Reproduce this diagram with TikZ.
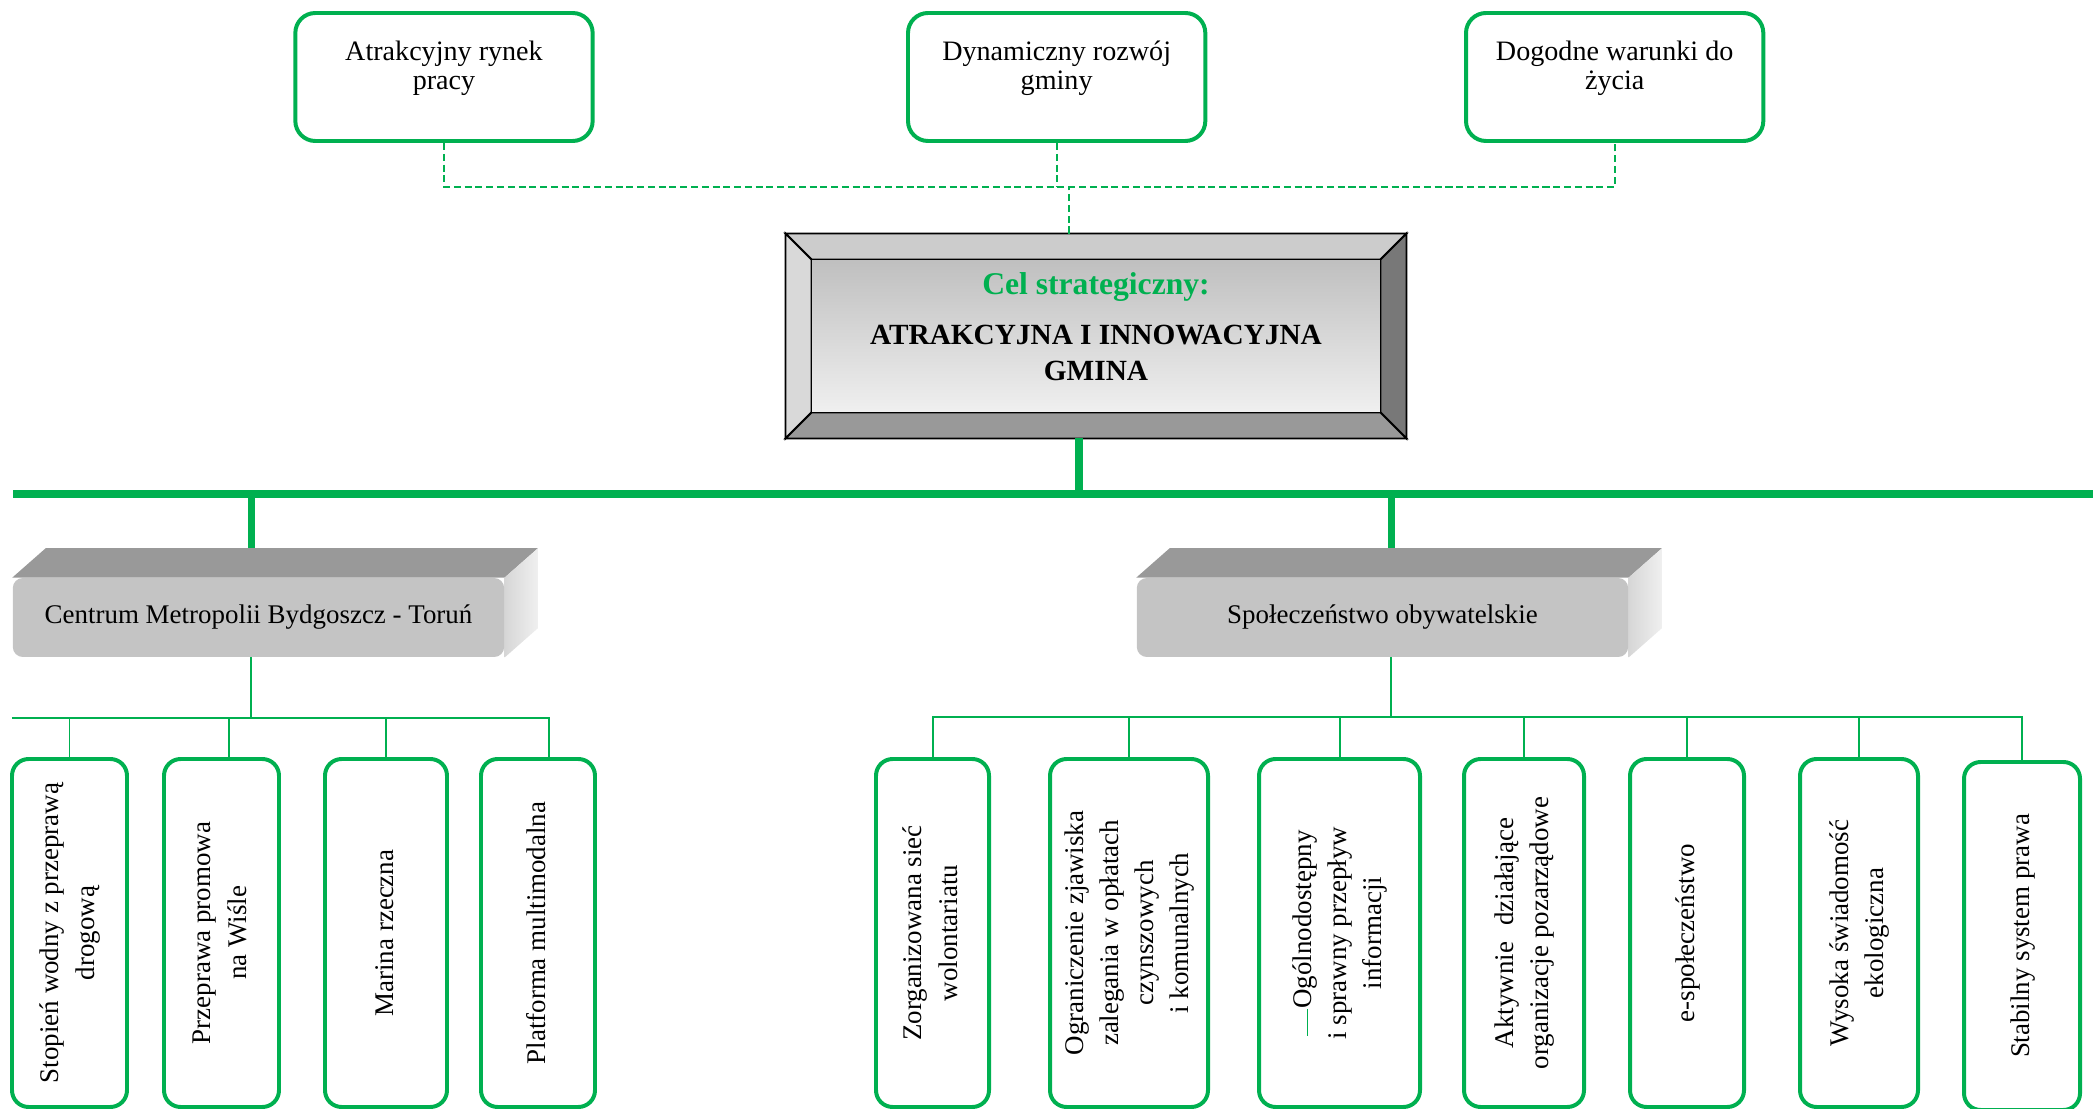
\documentclass[tikz,border=0pt]{standalone}
\usepackage{fontspec}
\setmainfont{Liberation Serif}
\usetikzlibrary{positioning,calc,backgrounds}

\definecolor{cgreen}{RGB}{0,176,80}

\tikzstyle{goal}=[shape=rectangle,
                  draw=cgreen,
                  line width=1.7pt,
                  rounded corners=0.3cm,
                  minimum width=4.46cm,
                  minimum height=1.92cm]
\tikzstyle{goaltxt}=[align=center,
                     inner sep=0pt,
                     font=\fontsize{12}{12.5}\selectfont]
\tikzstyle{celbox}=[shape=rectangle,
                    minimum width=9.3cm,
                    minimum height=3.06cm]
\tikzstyle{area}=[shape=rectangle,
                  fill=black!23,
                  rounded corners=0.15cm,
                  minimum width=7.37cm,
                  minimum height=1.185cm,
                  font=\fontsize{11.5}{14}\selectfont]
\tikzstyle{act}=[shape=rectangle,
                 draw=cgreen,
                 fill=white,
                 line width=1.7pt,
                 rounded corners=0.25cm,
                 inner sep=0pt,
                 minimum height=5.22cm,
                 font=\fontsize{11.5}{15}\selectfont]
\tikzstyle{link}=[draw=cgreen, line width=0.85pt]
\tikzstyle{trunk}=[draw=cgreen, line width=3pt]
\tikzstyle{dlink}=[draw=cgreen, line width=0.8pt, dash pattern=on 3pt off 1.6pt]

\newcommand{\vlab}[1]{\rotatebox{90}{\begin{tabular}{@{}c@{}}#1\end{tabular}}}

\begin{document}
\begin{tikzpicture}
\useasboundingbox (0,0) rectangle (31.395,-16.635);

% goals
\node[goal] (g1) at (6.66,-1.155) {};
\node[goal] (g2) at (15.85,-1.155) {};
\node[goal] (g3) at (24.22,-1.155) {};
\node[goaltxt, below=0.44cm of g1.north] (t1) {Atrakcyjny rynek\\pracy};
\node[goaltxt, below=0.44cm of g2.north] (t2) {Dynamiczny rozwój\\gminy};
\node[goaltxt, below=0.44cm of g3.north] (t3) {Dogodne warunki do\\życia};

% strategic goal
\node[celbox] (cel) at (16.44,-5.04) {};
\coordinate (inw) at ($(cel.north west)+(0.39,-0.39)$);
\coordinate (ine) at ($(cel.north east)+(-0.39,-0.39)$);
\coordinate (isw) at ($(cel.south west)+(0.39,0.39)$);
\coordinate (ise) at ($(cel.south east)+(-0.39,0.39)$);
\filldraw[fill=black!20, line width=0.8pt] (cel.north west) -- (cel.north east) -- (ine) -- (inw) -- cycle;
\filldraw[fill=black!15, line width=0.8pt] (cel.north west) -- (inw) -- (isw) -- (cel.south west) -- cycle;
\filldraw[fill=black!53, line width=0.8pt] (cel.north east) -- (cel.south east) -- (ise) -- (ine) -- cycle;
\filldraw[fill=black!40, line width=0.8pt] (cel.south west) -- (isw) -- (ise) -- (cel.south east) -- cycle;
\shade[top color=black!25, bottom color=black!6] (inw) rectangle (ise);
\draw[line width=0.8pt] (inw) rectangle (ise);
\node[align=center, font=\bfseries\fontsize{12.5}{15.3}\selectfont] (celtxt) at ([yshift=0.135cm]cel.center)
  {{\color{cgreen}\fontsize{13.5}{15}\selectfont Cel strategiczny:}\\[6pt]ATRAKCYJNA I INNOWACYJNA\\GMINA};

% areas
\node[area] (cmb) at (3.8775,-9.2625) {Centrum Metropolii Bydgoszcz - Toruń};
\node[area] (spo) at (20.7375,-9.2625) {Społeczeństwo obywatelskie};
\begin{scope}[on background layer]
\foreach \b in {cmb,spo} {
  \fill[black!40] (\b.north west) -- ++(0.5,0.44) -- ($(\b.north east)+(0.5,0.44)$) -- (\b.north east) -- cycle;
  \shade[left color=black!16, right color=black!6] (\b.north east) -- ++(0.5,0.44) -- ($(\b.south east)+(0.5,0.44)$) -- (\b.south east) -- cycle;
}
\end{scope}
\coordinate (cmbx) at ([xshift=-0.11cm]cmb.center);
\coordinate (spox) at ([xshift=0.13cm]spo.center);

% actions
\node[act, minimum width=1.725cm] (b1) at (1.0425,-13.995) {\vlab{Stopień wodny z przeprawą\\drogową}};
\node[act, minimum width=1.725cm] (b2) at (3.3225,-13.995) {\vlab{Przeprawa promowa\\na Wiśle}};
\node[act, minimum width=1.83cm] (b3) at (5.79,-13.995) {\vlab{Marina rzeczna}};
\node[act, minimum width=1.71cm] (b4) at (8.07,-13.995) {\vlab{Platforma multimodalna}};

\node[act, minimum width=1.695cm] (c1) at (13.9875,-13.995) {\vlab{Zorganizowana sieć\\wolontariatu}};
\node[act, minimum width=2.37cm] (c2) at (16.935,-13.995) {\vlab{Ograniczenie zjawiska\\zalegania w opłatach\\czynszowych\\i komunalnych}};
\node[act, minimum width=2.415cm] (c3) at (20.0925,-13.995) {\vlab{\textcolor{cgreen}{\rule[0.25ex]{1em}{0.7pt}}Ogólnodostępny\\i sprawny przepływ\\informacji}};
\node[act, minimum width=1.8cm] (c4) at (22.86,-13.995) {\vlab{Aktywnie\hspace{0.6em}działające\\organizacje pozarządowe}};
\node[act, minimum width=1.71cm] (c5) at (25.305,-13.995) {\vlab{e-społeczeństwo}};
\node[act, minimum width=1.77cm] (c6) at (27.885,-13.995) {\vlab{Wysoka świadomość\\ekologiczna}};
\node[act, minimum width=1.74cm] (c7) at (30.33,-14.04) {\vlab{Stabilny system prawa}};
\coordinate (b2x) at ([xshift=0.11cm]b2.north);
\coordinate (b4x) at ([xshift=0.165cm]b4.north);

% dashed links
\coordinate (dbus) at (0,-2.805);
\coordinate (celhead) at ([xshift=-0.405cm]cel.north);
\draw[dlink] (g1.south) -- (g1.south |- dbus) -- (g3.south |- dbus) -- (g3.south);
\draw[dlink] (g2.south) -- (g2.south |- dbus);
\draw[dlink] (celhead) -- (celhead |- dbus);

% main bar
\coordinate (barl) at (0.195,-7.41);
\coordinate (barr) at (31.395,-7.41);
\coordinate (celfoot) at ([xshift=-0.255cm]cel.south);
\draw[trunk] (barl) -- (barr);
\draw[trunk] (celfoot) -- (celfoot |- barl);
\draw[trunk] (cmbx |- barl) -- ([yshift=0.44cm]cmbx |- cmb.north);
\draw[trunk] (spox |- barl) -- ([yshift=0.44cm]spox |- spo.north);

% lower links
\coordinate (lbus) at (0.18,-10.77);
\coordinate (rbus) at (0,-10.755);
\draw[link] (cmbx |- cmb.south) -- (cmbx |- lbus);
\draw[link] (lbus) -| (b4x);
\foreach \n in {b1.north,b2x,b3.north}
  \draw[link] (\n) -- (\n |- lbus);
\draw[link] (spox |- spo.south) -- (spox |- rbus);
\draw[link] (c1.north) -- (c1.north |- rbus) -- (c7.north |- rbus) -- (c7.north);
\foreach \i in {2,...,6}
  \draw[link] (c\i.north) -- (c\i.north |- rbus);
\end{tikzpicture}
\end{document}
